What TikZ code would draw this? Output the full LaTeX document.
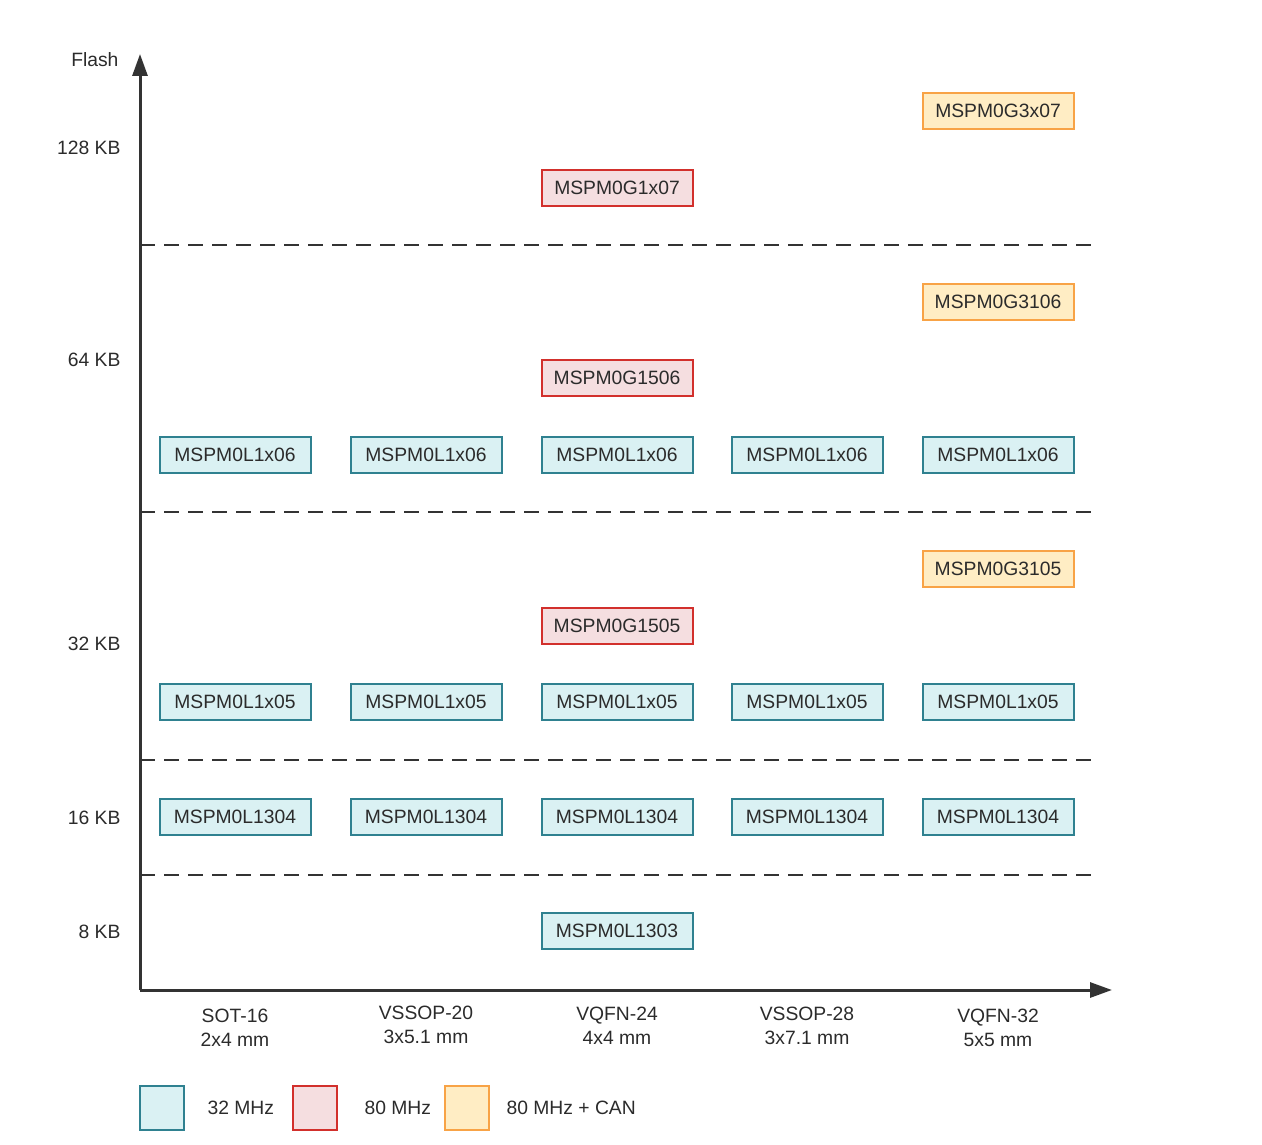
\documentclass[tikz,border=0pt]{standalone}
\usepackage{fontspec}
\setmainfont{Liberation Sans}
\usetikzlibrary{arrows.meta}
\definecolor{axisc}{HTML}{333333}
\definecolor{txt}{HTML}{2B2B2B}
\definecolor{tealb}{HTML}{2F8190}
\definecolor{tealf}{HTML}{DAF1F3}
\definecolor{redb}{HTML}{D2302C}
\definecolor{redf}{HTML}{F5DEE0}
\definecolor{orab}{HTML}{F8A346}
\definecolor{oraf}{HTML}{FFEDC4}
\begin{document}
\begin{tikzpicture}[x=1pt,y=-1pt,
  every node/.style={font=\fontsize{19.3}{22}\selectfont, text=txt},
  chip/.style={draw, line width=2pt, minimum width=151pt, minimum height=36pt, inner sep=0pt},
  lo/.style={chip, draw=tealb, fill=tealf},
  mid/.style={chip, draw=redb, fill=redf},
  hi/.style={chip, draw=orab, fill=oraf},
  lbox/.style={draw, line width=2pt, minimum width=44pt, minimum height=44pt, inner sep=0pt},
  divider/.style={line width=1.8pt, axisc, dash pattern=on 15pt off 9pt},
  axis/.style={line width=3pt, axisc, -{Triangle[length=22pt,width=15pt]}},
  ylab/.style={anchor=east},
  pkg/.style={align=center, font=\fontsize{19.3}{24}\selectfont}
]
\useasboundingbox (0,0) rectangle (1262,1145);

% axes
\coordinate (O) at (140,990);
\coordinate (ytop) at (140,54);
\coordinate (xend) at (1112,990);
\draw[axis] (O) -- (ytop);
\draw[axis] (O) -- (xend);

% dividers
\foreach \yy/\nm in {245/da,512/db,760/dc,875/dd}{
  \coordinate (\nm l) at (140,\yy);
  \coordinate (\nm r) at (1097,\yy);
  \draw[divider] (\nm l) -- (\nm r);
}

% y labels
\node[ylab] (flash) at (122,60) {Flash};
\node[ylab] (k128) at (124,148) {128 KB};
\node[ylab] (k64) at (124,360) {64 KB};
\node[ylab] (k32) at (124,644) {32 KB};
\node[ylab] (k16) at (124,818) {16 KB};
\node[ylab] (k8) at (124,932) {8 KB};

% chips
\node[hi] (g3x07) at (998,111) {MSPM0G3x07};
\node[mid] (g1x07) at (617,188) {MSPM0G1x07};
\node[hi] (g3106) at (998,302) {MSPM0G3106};
\node[mid] (g1506) at (617,378) {MSPM0G1506};
\node[hi] (g3105) at (998,569) {MSPM0G3105};
\node[mid] (g1505) at (617,626) {MSPM0G1505};
\node[lo] (l1303) at (617,931) {MSPM0L1303};
\foreach \xx/\i in {235/1,426/2,617/3,807/4,998/5}{
  \node[lo] (la\i) at (\xx,455) {MSPM0L1x06};
  \node[lo] (lb\i) at (\xx,702) {MSPM0L1x05};
  \node[lo] (lc\i) at (\xx,817) {MSPM0L1304};
}

% packages
\node[pkg] (p1) at (235,1028) {SOT-16\\2x4 mm};
\node[pkg] (p2) at (426,1025) {VSSOP-20\\3x5.1 mm};
\node[pkg] (p3) at (617,1026) {VQFN-24\\4x4 mm};
\node[pkg] (p4) at (807,1026) {VSSOP-28\\3x7.1 mm};
\node[pkg] (p5) at (998,1028) {VQFN-32\\5x5 mm};

% legend
\node[lbox, draw=tealb, fill=tealf] (lg1) at (162,1108) {};
\node[anchor=west] (lt1) at (204,1108) {32 MHz};
\node[lbox, draw=redb, fill=redf] (lg2) at (315,1108) {};
\node[anchor=west] (lt2) at (361,1108) {80 MHz};
\node[lbox, draw=orab, fill=oraf] (lg3) at (467,1108) {};
\node[anchor=west] (lt3) at (503,1108) {80 MHz + CAN};
\end{tikzpicture}
\end{document}
